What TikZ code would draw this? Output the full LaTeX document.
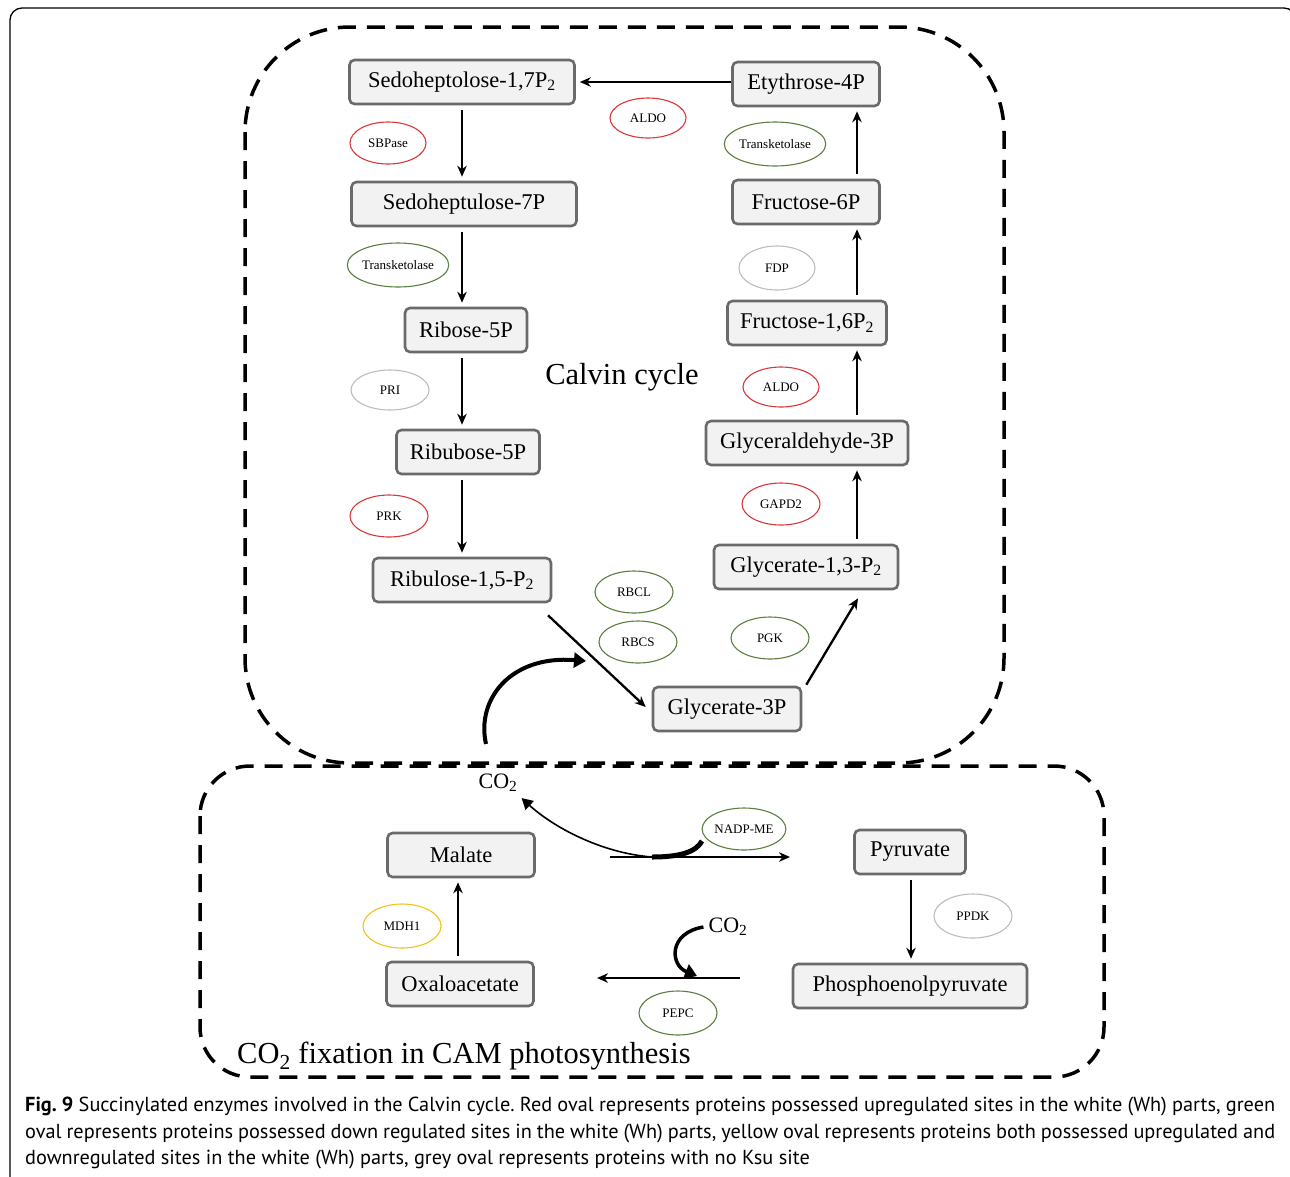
\documentclass[tikz,border=0pt]{standalone}
\usepackage{fontspec}
\setmainfont{Liberation Serif}
\newfontfamily\capfont{PT Sans}
\usetikzlibrary{shapes.geometric,arrows.meta,calc}
\definecolor{enzred}{HTML}{D9383A}
\definecolor{enzgreen}{HTML}{5B7F3E}
\definecolor{enzgrey}{HTML}{BDBDBD}
\definecolor{enzyellow}{HTML}{F2C21B}
\definecolor{boxfill}{HTML}{F2F2F2}
\definecolor{boxdraw}{HTML}{6A6A6A}
\begin{document}
\frenchspacing
\begin{tikzpicture}[x=1pt,y=-1pt,
 met/.style={draw=boxdraw, line width=2.6pt, fill=boxfill, rounded corners=5pt, minimum height=44pt, inner sep=0pt, font=\fontsize{22.5}{24}\selectfont},
 enz/.style={ellipse, draw, line width=1.1pt, minimum width=78pt, minimum height=42pt, inner sep=0pt, font=\fontsize{13}{14}\selectfont},
 rxn/.style={line width=2.3pt, -{Stealth[length=11pt,width=9.5pt]}, shorten <=5pt, shorten >=4pt},
 zone/.style={draw=black, line width=3.5pt, dash pattern=on 18pt off 11pt},
 co2arrow/.style={line width=4pt, -{Triangle[length=12pt,width=15pt]}},
 lbl/.style={inner sep=0pt, font=\fontsize{30.5}{32}\selectfont},
 captxt/.style={inner sep=0pt, anchor=west, font=\capfont\fontsize{20.3}{22}\selectfont}
]
\useasboundingbox (0,0) rectangle (1290,1176);
\clip (0,0) rectangle (1290,1176);
\fill[white] (0,0) rectangle (1290,1176);
% outer frame
\draw[line width=1.3pt, rounded corners=12pt] (10,8) rectangle (1296,1190);

% regions
\draw[zone, rounded corners=105pt] (245,27) rectangle (1004,763);
\draw[zone, rounded corners=50pt] (200,766) rectangle (1104,1077);

% metabolites
\node[met, minimum width=225pt] (s17) at (462,82) {Sedoheptolose-1,7P\textsubscript{2}};
\node[met, minimum width=147pt] (e4p) at (806,84) {Etythrose-4P};
\node[met, minimum width=225pt] (s7p) at (464,204) {Sedoheptulose-7P};
\node[met, minimum width=147pt] (f6p) at (806,202) {Fructose-6P};
\node[met, minimum width=122pt] (r5p) at (466,330) {Ribose-5P};
\node[met, minimum width=159pt] (f16) at (807,323) {Fructose-1,6P\textsubscript{2}};
\node[met, minimum width=143pt] (ru5p) at (468,452) {Ribubose-5P};
\node[met, minimum width=202pt] (g3p) at (807,443) {Glyceraldehyde-3P};
\node[met, minimum width=178pt] (rubp) at (462,580) {Ribulose-1,5-P\textsubscript{2}};
\node[met, minimum width=184pt] (g13) at (806,567) {Glycerate-1,3-P\textsubscript{2}};
\node[met, minimum width=148pt] (gl3p) at (727,709) {Glycerate-3P};
\node[met, minimum width=147pt] (mal) at (461,855) {Malate};
\node[met, minimum width=111pt] (pyr) at (910,852) {Pyruvate};
\node[met, minimum width=147pt] (oaa) at (460,984) {Oxaloacetate};
\node[met, minimum width=234pt] (pep) at (910,986) {Phosphoenolpyruvate};

% enzymes
\node[enz, draw=enzred, minimum width=76pt] (sbp) at (388,143) {SBPase};
\node[enz, draw=enzred, minimum width=76pt, minimum height=40pt] (aldo1) at (648,118) {ALDO};
\node[enz, draw=enzgreen, minimum width=94pt, minimum height=44pt] (tk1) at (775,144) {Transketolase};
\node[enz, draw=enzgreen, minimum width=94pt, minimum height=44pt] (tk2) at (398,265) {Transketolase};
\node[enz, draw=enzgrey, minimum width=76pt, minimum height=44pt] (fdp) at (777,268) {FDP};
\node[enz, draw=enzgrey, minimum height=40pt] (pri) at (390,390) {PRI};
\node[enz, draw=enzred, minimum width=76pt, minimum height=40pt] (aldo2) at (781,387) {ALDO};
\node[enz, draw=enzred] (gapd) at (781,504) {GAPD2};
\node[enz, draw=enzred] (prk) at (389,516) {PRK};
\node[enz, draw=enzgreen] (rbcl) at (634,592) {RBCL};
\node[enz, draw=enzgreen] (rbcs) at (638,642) {RBCS};
\node[enz, draw=enzgreen] (pgk) at (770,638) {PGK};
\node[enz, draw=enzgreen] (nadp) at (744,829) {NADP-ME};
\node[enz, draw=enzgrey, minimum height=44pt] (ppdk) at (973,916) {PPDK};
\node[enz, draw=enzyellow, minimum height=44pt] (mdh) at (402,926) {MDH1};
\node[enz, draw=enzgreen, minimum height=44pt] (pepc) at (678,1013) {PEPC};

% labels
\node[lbl] (calvin) at (622,377) {Calvin cycle};
\node[lbl, anchor=west] (cam) at (237,1056) {CO\textsubscript{2} fixation in CAM photosynthesis};
\node[inner sep=0pt, font=\fontsize{22}{23}\selectfont] (co2a) at (498,783) {CO\textsubscript{2}};
\node[inner sep=0pt, font=\fontsize{22}{23}\selectfont] (co2b) at (728,927) {CO\textsubscript{2}};

% column coordinates
\coordinate (colR) at (857,0);
\coordinate (colL) at (462,0);
\coordinate (colB) at (911,0);
\coordinate (colO) at (458,0);

% Calvin cycle reactions
\draw[rxn, shorten <=0pt] (e4p.west |- s17.east) -- (s17.east);
\draw[rxn] (s17.south -| colL) -- (s7p.north -| colL);
\draw[rxn] (s7p.south -| colL) -- (r5p.north -| colL);
\draw[rxn] (r5p.south -| colL) -- (ru5p.north -| colL);
\draw[rxn] (ru5p.south -| colL) -- (rubp.north -| colL);
\draw[rxn, shorten <=0pt, shorten >=0pt] ($(rubp.south)+(86,12)$) -- ($(gl3p.west)+(-6,-2)$);
\draw[rxn, shorten <=0pt, shorten >=0pt] ($(gl3p.north east)+(4,-1)$) -- ($(g13.south)+(52,8)$);
\draw[rxn] (g13.north -| colR) -- (g3p.south -| colR);
\draw[rxn] (g3p.north -| colR) -- (f16.south -| colR);
\draw[rxn] (f16.north -| colR) -- (f6p.south -| colR);
\draw[rxn] (f6p.north -| colR) -- (e4p.south -| colR);

% CAM reactions
\coordinate (malR) at (610,857);
\coordinate (pyrL) at (790,857);
\coordinate (pepL) at (740,978);
\coordinate (oaaR) at (597,978);
\draw[rxn] (oaa.north -| colO) -- (mal.south -| colO);
\draw[rxn] (pyr.south -| colB) -- (pep.north -| colB);
\draw[rxn, shorten <=0pt, shorten >=0pt] (pepL) -- (oaaR);
\draw[rxn, shorten <=0pt, shorten >=0pt] (malR) -- (pyrL);

% CO2 transfers
\coordinate (nadpHook) at (702,841);
\coordinate (nadpBase) at (652,857);
\draw[line width=1.6pt, -{Triangle[length=11pt,width=12pt]}] (nadpBase) .. controls (600,853) and (552,826) .. ($(co2a.south east)+(4,6)$);
\draw[line width=5pt] (nadpBase) .. controls (680,857) and (696,852) .. (nadpHook);
\coordinate (co2up) at (586,661);
\draw[co2arrow] ($(co2a.north)+(-12,-30)$) .. controls (476,700) and (510,655) .. (co2up);
\coordinate (pepcHit) at (697,976);
\draw[co2arrow, line width=3.5pt] ($(co2b.west)+(-5,0)$) .. controls (668,933) and (670,965) .. (pepcHit);

% caption
\node[captxt] (cap1) at (25,1106) {\makebox[1250pt][s]{\mbox{\textbf{Fig.~9}} Succinylated enzymes involved in the Calvin cycle. Red oval represents proteins possessed upregulated sites in the white (Wh) parts, green}};
\node[captxt] (cap2) at (25,1133) {\makebox[1250pt][s]{oval represents proteins possessed down regulated sites in the white (Wh) parts, yellow oval represents proteins both possessed upregulated and}};
\node[captxt] (cap3) at (25,1159) {downregulated sites in the white (Wh) parts, grey oval represents proteins with no Ksu site};
\end{tikzpicture}
\end{document}
